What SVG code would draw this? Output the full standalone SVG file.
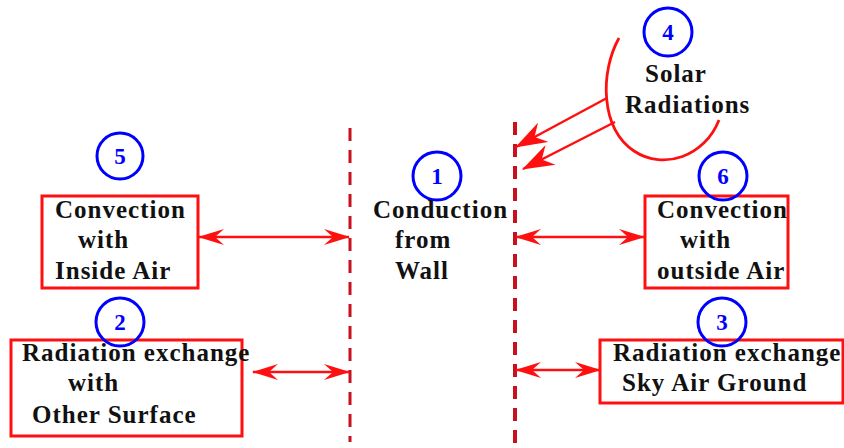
<svg xmlns="http://www.w3.org/2000/svg" width="844" height="448" viewBox="0 0 844 448">
<defs>
<style>
.t{font-family:"Liberation Serif","Times New Roman",serif;font-weight:bold;font-size:25px;letter-spacing:1px;fill:#111}
.n{font-family:"Liberation Serif","Times New Roman",serif;font-weight:bold;font-size:23px;fill:#0000ff;text-anchor:middle}
.c{fill:none;stroke:#0000ff;stroke-width:3}
.box{fill:#fff;stroke:#ff1010;stroke-width:3}
.wall{stroke:#c8101e;stroke-dasharray:13 9;fill:none}
.a{stroke:#ff1010;stroke-width:2.5;fill:none}
</style>
<marker id="ah" viewBox="0 0 26 16" refX="25" refY="8" markerWidth="26" markerHeight="16" markerUnits="userSpaceOnUse" orient="auto-start-reverse">
<path d="M0,0 L26,8 L0,16 L9,8 Z" fill="#ff1010"/>
</marker>
<marker id="sh" viewBox="0 0 32 22" refX="31" refY="11" markerWidth="32" markerHeight="22" markerUnits="userSpaceOnUse" orient="auto">
<path d="M0,0 L32,11 L0,22 L10,11 Z" fill="#ff1010"/>
</marker>
</defs>
<rect width="844" height="448" fill="#fff"/>
<g id="walls">
<line class="wall" x1="350" y1="128" x2="350" y2="442" stroke-width="3"/>
<line class="wall" x1="515" y1="122" x2="515" y2="446" stroke-width="4"/>
</g>
<g id="connectors">
<line class="a" x1="199" y1="237" x2="349" y2="237" marker-start="url(#ah)" marker-end="url(#ah)"/>
<line class="a" x1="253" y1="372" x2="349" y2="372" marker-start="url(#ah)" marker-end="url(#ah)"/>
<line class="a" x1="516" y1="237" x2="644" y2="237" marker-start="url(#ah)" marker-end="url(#ah)"/>
<line class="a" x1="516" y1="370" x2="600" y2="370" marker-start="url(#ah)" marker-end="url(#ah)"/>
<line class="a" x1="607" y1="98" x2="516" y2="147" stroke-width="2.8" marker-end="url(#sh)"/>
<line class="a" x1="615" y1="122" x2="523" y2="169" stroke-width="2.8" marker-end="url(#sh)"/>
</g>
<g id="node5">
<circle class="c" cx="120" cy="156" r="23"/>
<text class="n" x="120" y="164">5</text>
</g>
<g id="box-inside-air">
<rect class="box" x="42" y="196" width="156" height="92"/>
<text class="t" x="55" y="218">Convection</text>
<text class="t" x="78" y="248">with</text>
<text class="t" x="55" y="279">Inside Air</text>
</g>
<g id="box-other-surface">
<rect class="box" x="11" y="340" width="231" height="96" stroke-width="2.4"/>
<text class="t" x="22" y="361">Radiation exchange</text>
<text class="t" x="68" y="391">with</text>
<text class="t" x="32" y="423">Other Surface</text>
</g>
<g id="node2">
<circle class="c" cx="120" cy="322" r="24"/>
<text class="n" x="120" y="330">2</text>
</g>
<g id="node1">
<circle class="c" cx="437" cy="176" r="24"/>
<text class="n" x="437" y="184">1</text>
<text class="t" x="373" y="218">Conduction</text>
<text class="t" x="395" y="248">from</text>
<text class="t" x="395" y="279">Wall</text>
</g>
<g id="solar">
<path d="M619,38 C600,72 600,128 634,151 C664,171 705,156 719,120" fill="none" stroke="#ff1010" stroke-width="2.8"/>
<circle class="c" cx="668" cy="32" r="24"/>
<text class="n" x="668" y="40">4</text>
<text class="t" x="645" y="82">Solar</text>
<text class="t" x="625" y="113">Radiations</text>
</g>
<g id="box-outside-air">
<rect class="box" x="645" y="196" width="143" height="92" stroke-width="3.2"/>
<text class="t" x="657" y="218">Convection</text>
<text class="t" x="680" y="248">with</text>
<text class="t" x="657" y="279">outside Air</text>
</g>
<g id="node6">
<circle class="c" cx="723" cy="176" r="24"/>
<text class="n" x="723" y="184">6</text>
</g>
<g id="box-sky">
<rect class="box" x="600" y="340" width="243" height="63"/>
<text class="t" x="613" y="361">Radiation exchange</text>
<text class="t" x="622" y="391">Sky Air Ground</text>
</g>
<g id="node3">
<circle class="c" cx="722" cy="322" r="24"/>
<text class="n" x="722" y="330">3</text>
</g>
</svg>
